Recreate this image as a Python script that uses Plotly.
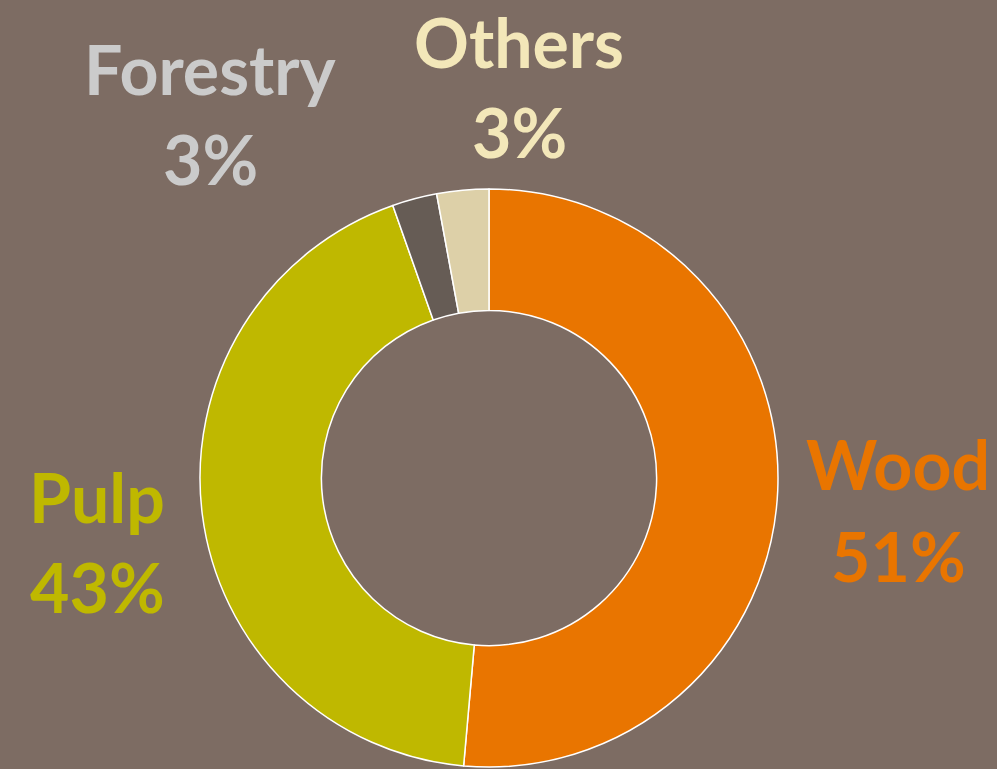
import plotly.graph_objects as go

categories = ["Wood", "Pulp", "Forestry", "Others"]
values = [51.4, 43.2, 2.5, 2.9]
label_texts = ["51%", "43%", "3%", "3%"]
slice_colors = ["#E97500", "#BFB800", "#665C55", "#DDD0A8"]
label_colors = ["#E97500", "#BFB800", "#CBCBCB", "#F3E7B9"]
# label positions: x center, y of name line, y of percent line (pixels)
label_pos = [(898, 465, 557), (97, 498, 588), (210, 70, 160), (519, 44, 134)]

W, H = 997, 769
BG = "#7D6C63"

fig = go.Figure()
cx, cy, r = 489, 478, 289
fig.add_trace(go.Pie(
    labels=categories,
    values=values,
    hole=0.58,
    sort=False,
    direction="clockwise",
    rotation=0,
    marker=dict(colors=slice_colors, line=dict(color="white", width=1.5)),
    textinfo="none",
    showlegend=False,
    domain=dict(x=[(cx - r) / W, (cx + r) / W], y=[(H - cy - r) / H, (H - cy + r) / H]),
))

for cat, txt, col, (px, py1, py2) in zip(categories, label_texts, label_colors, label_pos):
    for t, py in ((cat, py1), (txt, py2)):
        fig.add_annotation(
            x=px / W, y=1 - (py - 2) / H, xref="paper", yref="paper",
            text=t, showarrow=False,
            font=dict(family="Lato", size=68, color=col, weight="bold"),
            xanchor="center", yanchor="middle", align="center",
        )

fig.update_layout(
    width=W, height=H,
    margin=dict(l=0, r=0, t=0, b=0),
    paper_bgcolor=BG, plot_bgcolor=BG,
)
fig.write_html("out.html", config={"displayModeBar": False},
               post_script="document.body.style.margin='0';")
